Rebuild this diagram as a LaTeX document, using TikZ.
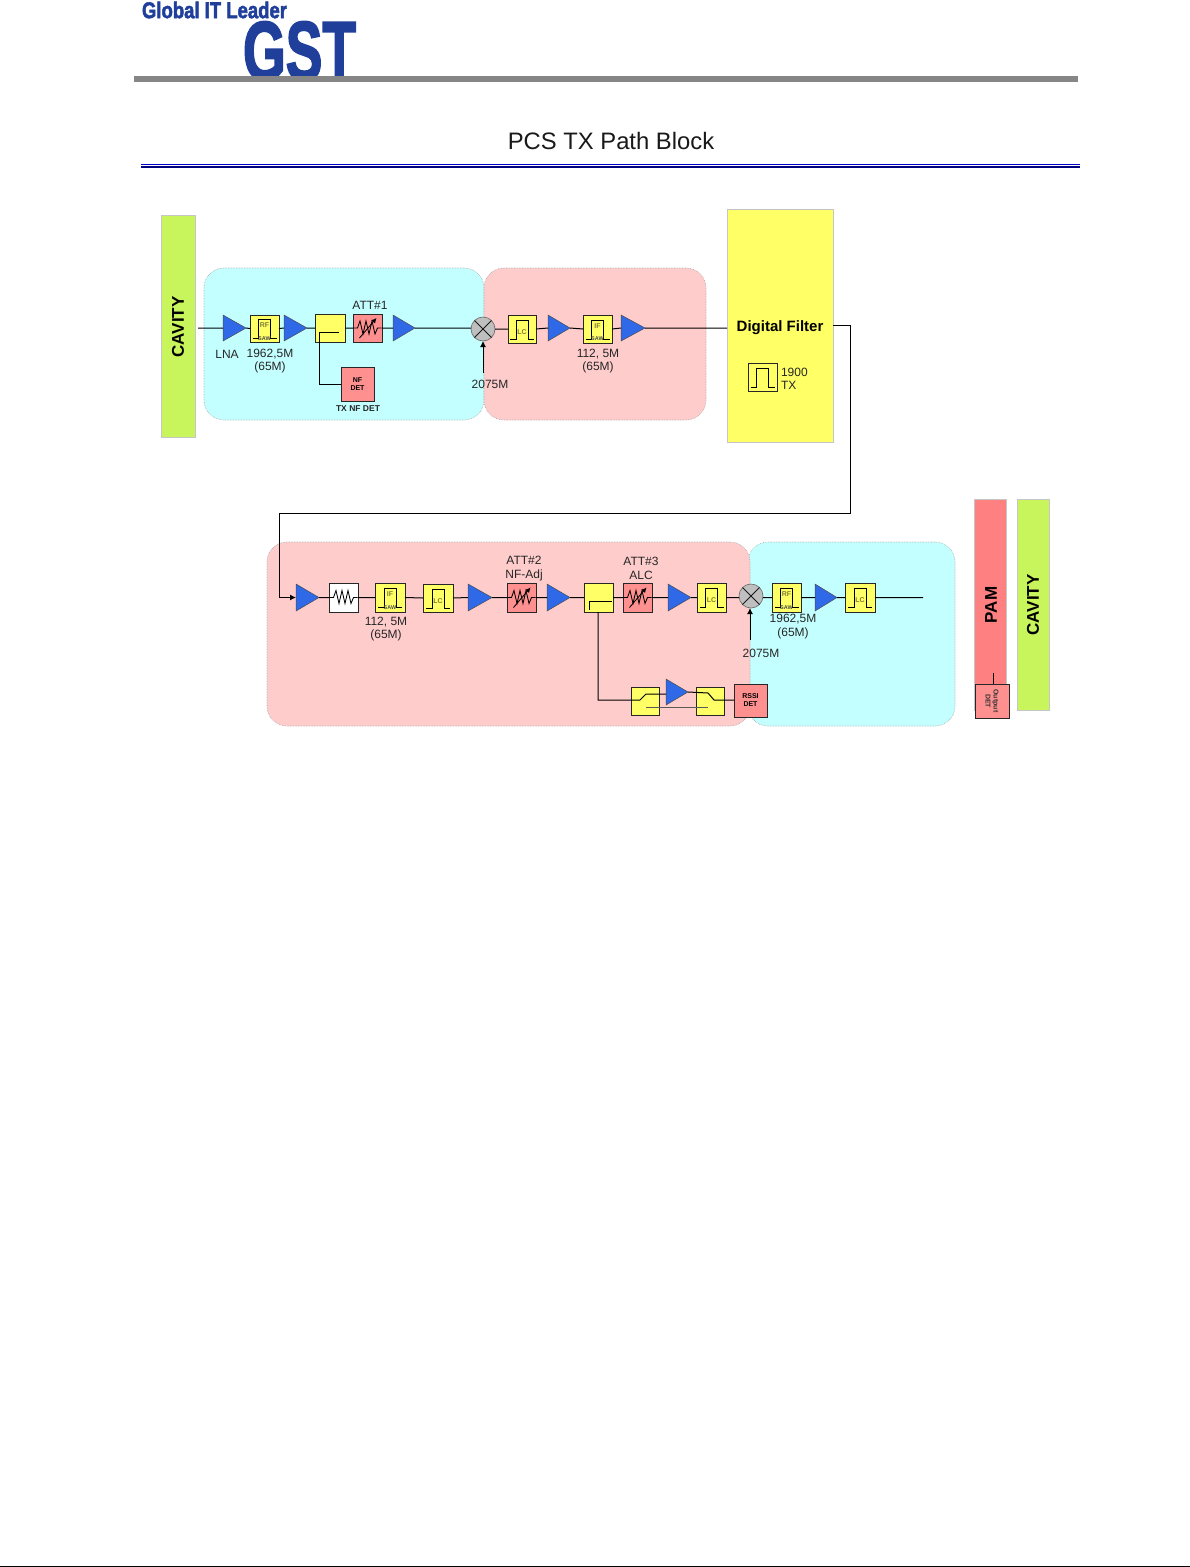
\documentclass[tikz,border=0pt]{standalone}
\usepackage{fontspec}
\usepackage{graphicx}
\setmainfont{Liberation Sans}
\newfontfamily\logofont[BoldFeatures={FakeBold=2.5}]{Liberation Sans}
\usetikzlibrary{arrows.meta,calc}
\definecolor{cyanbg}{HTML}{C4FFFF}
\definecolor{pinkbg}{HTML}{FFCCCC}
\definecolor{cavgreen}{HTML}{C8F45C}
\definecolor{yel}{HTML}{FFFF66}
\definecolor{att}{HTML}{FF9090}
\definecolor{pam}{HTML}{FF8080}
\definecolor{ampblue}{HTML}{2F69E8}
\definecolor{navy}{HTML}{1F3F9B}
\tikzset{
  base/.style={inner sep=0pt,outer sep=0pt},
  region/.style={base,rounded corners=20pt,draw=gray!70,densely dotted,line width=.6pt},
  bar/.style={base,draw=gray!45,line width=.8pt},
  yelbox/.style={base,draw=black!85,fill=yel,line width=.8pt},
  attbox/.style={base,draw=black!85,fill=att,line width=.8pt},
  whitebox/.style={base,draw=black!85,fill=white,line width=.8pt},
  ampnode/.style={base},
  amptri/.style={draw=black!70,fill=ampblue,line width=.5pt,line join=miter},
  mixer/.style={base,circle,draw=gray!80!black,fill=gray!50,line width=.6pt,minimum size=24pt},
  wire/.style={black,line width=1pt},
  sym/.style={black,line width=.85pt},
  lab/.style={base,font=\fontsize{12}{13.5}\selectfont,align=center,text=black!85},
  tiny/.style={base,font=\bfseries\fontsize{7}{9}\selectfont,text=black!50!yel,align=center},
  lo/.style={wire,-{Latex[length=6pt,width=6pt]}},
  bartext/.style={base,font=\bfseries\fontsize{17}{17}\selectfont,rotate=90},
}
% name, style, x1, y1, x2, y2, text
\newcommand\bx[7]{\node[#2,minimum width={(#5-#3)*1pt},minimum height={(#6-#4)*1pt}] (#1) at ({(#3+#5)/2},{(#4+#6)/2}) {#7};}
\newcommand\ampt[5]{\bx{#1}{ampnode}{#2}{#3}{#4}{#5}{}\draw[amptri] (#1.north west)--(#1.east)--(#1.south west)--cycle;}
\newcommand\zig[1]{\draw[sym,shift={(#1.center)}] (-14,0)--(-10,0)--(-7.5,-7)--(-4.5,6)--(-1.5,-7)--(1.5,6)--(4.5,-7)--(7.5,6)--(10,0)--(14,0);}
\newcommand\attn[5]{\bx{#1}{attbox}{#2}{#3}{#4}{#5}{}\zig{#1}\draw[sym,shift={(#1.center)},-{Latex[length=5pt,width=5pt]}] (-8,10)--(9,-10);}
\newcommand\pulse[1]{\draw[sym,shift={(#1.center)}] (-12,10)--(-6,10)--(-6,-9)--(6,-9)--(6,10)--(12,10);}
\newcommand\lcf[5]{\bx{#1}{yelbox}{#2}{#3}{#4}{#5}{}\pulse{#1}\node[tiny] (#1t) at ([yshift=-3pt]#1.center) {LC};}
\newcommand\saw[6]{\bx{#1}{yelbox}{#2}{#3}{#4}{#5}{}\pulse{#1}\node[tiny] (#1t) at ([yshift=3pt]#1.center) {#6};\node[tiny,font=\fontsize{5.5}{5}\selectfont\bfseries,text=black!70] (#1s) at ([yshift=-10pt]#1.center) {SAW};}
\begin{document}
\begin{tikzpicture}[x=1pt,y=-1pt]
\useasboundingbox (0,0) rectangle (1190,1567);
% header
\node[base,text=navy] (logoa) at (214.5,10) {\resizebox{145pt}{16.5pt}{\logofont\bfseries Global IT Leader}};
\node[base,text=navy] (logob) at (299.5,51) {\resizebox{113pt}{58pt}{\logofont\bfseries GST}};
\fill[gray!95] (134,76) rectangle (1078,81.5);
\node[base,font=\fontsize{23.8}{24}\selectfont,text=black!90] (title) at (611,141) {PCS TX Path Block};
\fill[blue!80!black] (141,164) rectangle (1080,165);
\fill[blue!50!black] (141,166) rectangle (1080,167.5);
\draw[black,line width=1.2pt] (0,1566.4) -- (1190,1566.4);
% regions
\bx{cy1}{region,fill=cyanbg}{204}{268}{484}{420}{}
\bx{pk1}{region,fill=pinkbg}{484}{268}{706}{420}{}
\bx{cy2}{region,fill=cyanbg}{748}{542}{955}{726}{}
\bx{pk2}{region,fill=pinkbg}{267}{542}{750}{726}{}
% bars
\bx{cav1}{bar,fill=cavgreen}{161}{215}{195}{437}{}
\node[bartext] (cav1t) at (178,327) {CAVITY};
\bx{df}{bar,fill=yel}{727}{209}{833}{442}{}
\node[base,font=\bfseries\fontsize{15}{15}\selectfont] (dft) at (780,327.5) {Digital Filter};
\bx{dfb}{base,draw=black!85,line width=.8pt}{748}{363}{777}{391}{}
\pulse{dfb}
\node[lab,align=left,anchor=west] (dfl) at (781,379) {1900\\TX};
\bx{pam}{bar,fill=pam}{974}{499}{1006}{710}{}
\node[bartext] (pamt) at (991,605) {PAM};
\bx{cav2}{bar,fill=cavgreen}{1017}{499}{1049}{710}{}
\node[bartext] (cav2t) at (1033,605) {CAVITY};
\bx{odet}{attbox}{975}{684}{1009}{718}{}
\node[base,font=\fontsize{7}{8}\selectfont\bfseries,rotate=-90,align=center,text=black!80] (odett) at (992,701) {Output\\DET};
\coordinate (ot) at (993,673);
\draw[wire] (ot) -- (ot |- odet.north);
% row 1
\coordinate (in1) at (198,328);
\ampt{a1}{223}{315}{246}{341}
\saw{f1}{250}{315}{279}{342}{RF}
\ampt{a2}{284}{315}{307}{341}
\bx{c1}{yelbox}{315}{314}{345}{342}{}
\attn{t1}{353}{314}{382}{342}
\ampt{a3}{393}{315}{415}{341}
\node[mixer] (m1) at (483,329) {};
\draw[sym,gray!20!black,shift={(m1.center)}] (-8.5,-8.5)--(8.5,8.5) (-8.5,8.5)--(8.5,-8.5);
\lcf{f2}{508}{315}{536}{343}
\ampt{a4}{548}{315}{570}{341}
\saw{f3}{583}{315}{612}{343}{IF}
\ampt{a5}{621}{315}{645}{341}
\bx{nf}{attbox}{341}{367}{374}{401}{\bfseries\fontsize{7}{10}\selectfont\begin{tabular}{@{}c@{}}NF\\[-2pt]DET\end{tabular}}
\coordinate (c1a) at (339,332);
\coordinate (c1b) at (319,332);
\draw[wire] (c1a) -- (c1b) |- (nf.west);
\coordinate (lo1) at (483,373);
\draw[wire] (in1) -- (a1.west) (a1.east) -- (f1.west) (f1.east) -- (a2.west) (a2.east) -- (c1.west) (c1.east) -- (t1.west) (t1.east) -- (a3.west) (a3.east) -- (a3.east -| m1.west) (m1.east |- f2.west) -- (f2.west) (f2.east) -- (a4.west) (a4.east) -- (f3.west) (f3.east) -- (a5.west) (a5.east) -- (a5.east -| df.west);
\draw[lo] (lo1) -- (m1.south);
\node[lab] (l1) at (227,354) {LNA};
\node[lab] (l2) at (270,361) {1962,5M\\(65M)};
\node[lab] (l3) at (370,305) {ATT\#1};
\node[lab,font=\bfseries\fontsize{8.5}{9}\selectfont] (l4) at (358,409) {TX NF DET};
\node[lab] (l5) at (490,384) {2075M};
\node[lab] (l6) at (598,361) {112, 5M\\(65M)};
% row 2
\ampt{r1}{296}{584}{319}{611}
\bx{rz}{whitebox}{329}{583}{358}{612}{}\zig{rz}
\saw{r2}{375}{583}{405}{612}{IF}
\lcf{r3}{423}{584}{453}{612}
\ampt{r4}{468}{584}{492}{611}
\attn{r5}{507}{583}{536}{612}
\ampt{r6}{547}{584}{570}{611}
\bx{rc}{yelbox}{584}{583}{613}{612}{}
\coordinate (rca) at (589,610);
\coordinate (rcb) at (612,601);
\draw[wire] (rca) |- (rcb);
\attn{r7}{623}{583}{652}{612}
\ampt{r8}{668}{584}{691}{611}
\lcf{r9}{697}{583}{726}{612}
\node[mixer] (m2) at (751,596) {};
\draw[sym,gray!20!black,shift={(m2.center)}] (-8.5,-8.5)--(8.5,8.5) (-8.5,8.5)--(8.5,-8.5);
\saw{r10}{772}{583}{801}{612}{RF}
\ampt{r11}{815}{584}{837}{611}
\lcf{r12}{845}{583}{875}{612}
\coordinate (rout) at (923,597.5);
\draw[wire] (r1.east) -- (rz.west) (rz.east) -- (r2.west) (r2.east) -- (r3.west) (r3.east) -- (r4.west) (r4.east) -- (r5.west) (r5.east) -- (r6.west) (r6.east) -- (rc.west) (rc.east) -- (r7.west) (r7.east) -- (r8.west) (r8.east) -- (r9.west) (r9.east) -- (m2.west |- r9.east) (m2.east |- r10.west) -- (r10.west) (r10.east) -- (r11.west) (r11.east) -- (r12.west) (r12.east) -- (rout);
% feed between the rows
\coordinate (fb1) at (850,513);
\coordinate (fb2) at (279,513);
\draw[wire] (df.east) -| (fb1) -- (fb2);
\draw[lo] (fb2) |- (r1.west);
% detector branch
\bx{s1}{yelbox}{631}{687}{659}{715}{}
\ampt{s2}{666}{679}{688}{705}
\bx{s3}{yelbox}{696}{687}{724}{715}{}
\bx{rd}{attbox}{734}{684}{767}{717}{\bfseries\fontsize{7}{10}\selectfont\begin{tabular}{@{}c@{}}RSSI\\[-2pt]DET\end{tabular}}
\coordinate (rcd) at (598,612);
\coordinate (s1a) at (640,700);
\coordinate (s1b) at (646,694);
\coordinate (s3a) at (708,693);
\coordinate (s3b) at (714,700);
\coordinate (s1c) at (646,707);
\coordinate (s3c) at (708,707);
\draw[wire] (rcd) |- (s1a) -- (s1b) -- (s1b -| s1.east) -- (s1b -| s2.west);
\draw[wire] (s2.east) -- (s3a) -- (s3b) -- (s3b -| rd.west);
\draw[sym,black!65] (s1c) -- (s3c);
\coordinate (lo2) at (750,640);
\draw[lo] (lo2) -- (lo2 |- m2.south);
\node[lab] (r1l) at (386,629) {112, 5M\\(65M)};
\node[lab] (r2l) at (524,568.5) {ATT\#2\\NF-Adj};
\node[lab] (r3l) at (641,568.5) {ATT\#3\\ALC};
\node[lab] (r4l) at (793,626.5) {1962,5M\\(65M)};
\node[lab] (r5l) at (761,653) {2075M};
\end{tikzpicture}
\end{document}
